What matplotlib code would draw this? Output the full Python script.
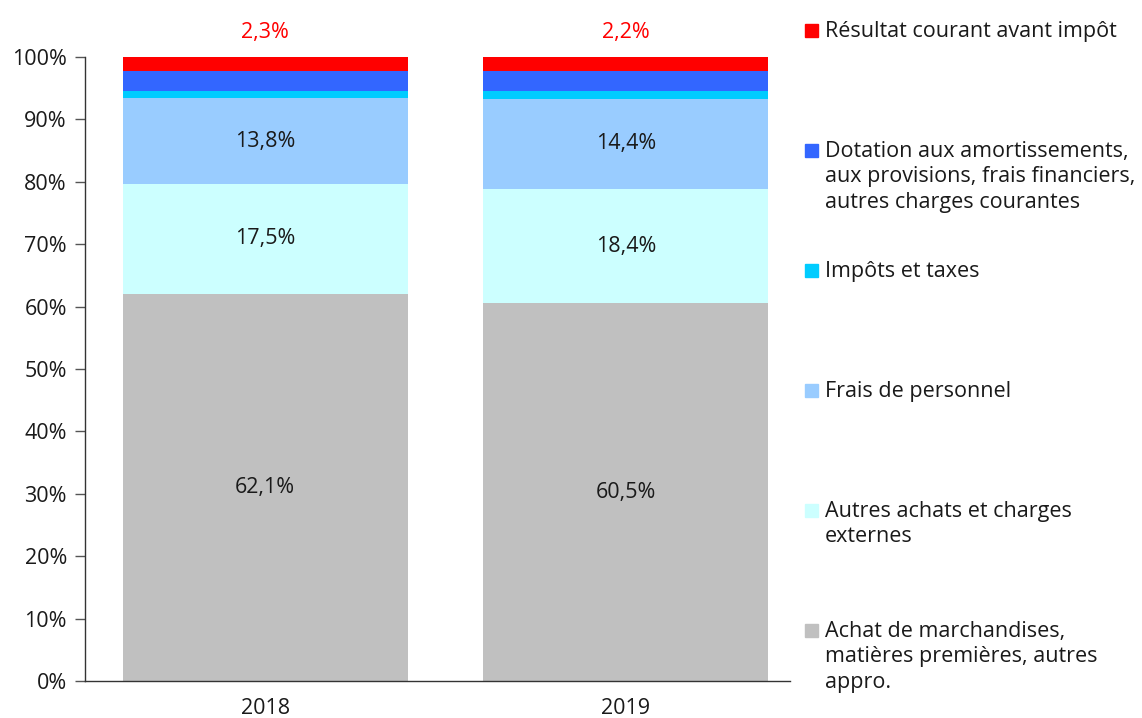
import numpy as np
import matplotlib.pyplot as plt
from matplotlib.patches import Rectangle

plt.rcParams['font.family'] = ['Open Sans', 'DejaVu Sans']

# donnees (% du chiffre d'affaires)
annees = ['2018', '2019']
achats = [62.1, 60.5]
autres_achats = [17.5, 18.4]
personnel = [13.8, 14.4]
impots = [1.2, 1.2]
dotations = [3.1, 3.3]
resultat = [2.3, 2.2]

series = [achats, autres_achats, personnel, impots, dotations, resultat]
couleurs = ['#C0C0C0', '#CCFFFF', '#99CCFF', '#00CCFF', '#3366FF', '#FF0000']
noms = ['Achat de marchandises,\nmatières premières, autres\nappro.',
        'Autres achats et charges\nexternes',
        'Frais de personnel',
        'Impôts et taxes',
        'Dotation aux amortissements,\naux provisions, frais financiers,\nautres charges courantes',
        'Résultat courant avant impôt']

fs = 15.5
fig = plt.figure(figsize=(11.42, 7.18), dpi=100)
ax = fig.add_axes([0.0744, 0.0515, 0.6174, 0.8691])

x = np.arange(len(annees))
bas = np.zeros(len(annees))
for k, (s, c) in enumerate(zip(series, couleurs)):
    s = np.array(s)
    ax.bar(x, s, 0.79, bottom=bas, color=c, edgecolor='none')
    if k < 3:
        for i in range(len(x)):
            ax.text(x[i], bas[i] + s[i] / 2, ('%.1f%%' % s[i]).replace('.', ','),
                    ha='center', va='center', fontsize=fs, color='#1a1a1a')
    bas = bas + s

# resultat au dessus des barres
for i in range(len(x)):
    ax.text(x[i], 104.0, ('%.1f%%' % resultat[i]).replace('.', ','),
            ha='center', va='center', fontsize=fs, color='#FF0000')

ax.set_xlim(-0.5, 1.455)
ax.set_ylim(0, 100)
ax.set_yticks(np.arange(0, 101, 10))
ax.set_yticklabels(['%d%%' % v for v in range(0, 101, 10)], fontsize=fs, color='#1a1a1a')
ax.set_xticks(x)
ax.set_xticklabels(annees, fontsize=fs, color='#1a1a1a')
ax.tick_params(axis='x', length=0, pad=12)
ax.tick_params(axis='y', length=7, width=1, color='#555555', pad=6)
for sp in ['top', 'right']:
    ax.spines[sp].set_visible(False)
for sp in ['left', 'bottom']:
    ax.spines[sp].set_color('#333333')
    ax.spines[sp].set_linewidth(1)

# legende a la main (ordre inverse)
W, H = 1142, 718
for j, k in enumerate(range(len(series) - 1, -1, -1)):
    yc = 31 + 120 * j
    fig.patches.append(Rectangle((805 / W, 1 - (yc + 6) / H), 13 / W, 13 / H,
                                 color=couleurs[k], transform=fig.transFigure))
    fig.text(825 / W, 1 - (yc - 10) / H, noms[k], ha='left', va='top',
             fontsize=fs, color='#1a1a1a', linespacing=1.28)

plt.savefig('out.png', dpi=100)
